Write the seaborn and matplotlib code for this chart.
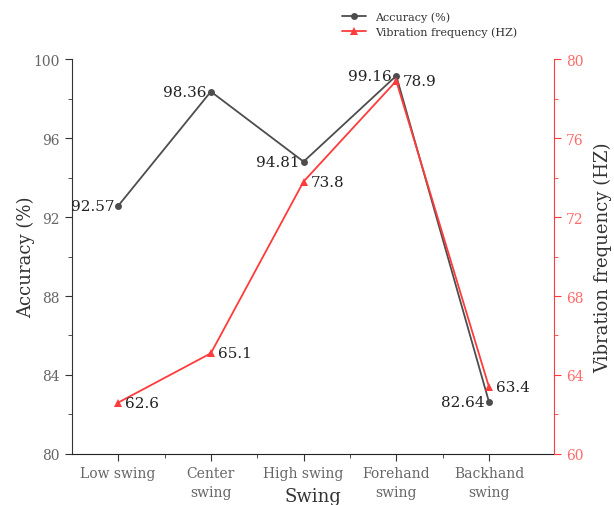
import matplotlib
matplotlib.use("Agg")
import matplotlib.pyplot as plt
import seaborn as sns
import pandas as pd
from matplotlib.ticker import MultipleLocator
from matplotlib.lines import Line2D

categories = ["Low swing", "Center\nswing", "High swing", "Forehand\nswing", "Backhand\nswing"]
accuracy = [92.57, 98.36, 94.81, 99.16, 82.64]
frequency = [62.6, 65.1, 73.8, 78.9, 63.4]
acc_labels = ["92.57", "98.36", "94.81", "99.16", "82.64"]
freq_labels = ["62.6", "65.1", "73.8", "78.9", "63.4"]

sns.set_style("ticks")
plt.rcParams['font.family'] = ['DejaVu Serif']

gray = "#4d4d4d"
red = "#ff3b3b"
tick_red = "#ff6b6b"

pos = list(range(1, len(categories) + 1))
df = pd.DataFrame({"pos": pos, "acc": accuracy, "freq": frequency})

fig = plt.figure(figsize=(6.14, 5.06), dpi=100)
ax = fig.add_axes([0.117, 0.101, 0.785, 0.78])
ax2 = ax.twinx()

sns.lineplot(data=df, x="pos", y="acc", ax=ax, color=gray, marker="o",
             markersize=5, markeredgewidth=0, linewidth=1.3)
sns.lineplot(data=df, x="pos", y="freq", ax=ax2, color=red, marker="^",
             markersize=6, markeredgewidth=0, linewidth=1.3)

ax.set_xlim(0.5, 5.7)
ax.set_ylim(80, 100)
ax2.set_ylim(60, 80)
ax.set_xticks(pos)
ax.set_xticklabels(categories, linespacing=1.5)
ax.set_xticks([1.5, 2.5, 3.5, 4.5], minor=True)
ax.yaxis.set_major_locator(MultipleLocator(4))
ax.yaxis.set_minor_locator(MultipleLocator(2))
ax2.yaxis.set_major_locator(MultipleLocator(4))
ax2.yaxis.set_minor_locator(MultipleLocator(2))

for a in (ax, ax2):
    a.spines['top'].set_visible(False)
ax.spines['right'].set_visible(False)
ax2.spines['left'].set_visible(False)
ax2.spines['bottom'].set_visible(False)
ax2.spines['right'].set_color(red)
ax.spines['left'].set_color("#333333")
ax.spines['bottom'].set_color("#222222")

ax.tick_params(axis='both', which='major', direction='out', length=5, labelsize=10, labelcolor="#666666", color="#333333")
ax.tick_params(axis='both', which='minor', direction='out', length=3, color="#333333")
ax2.tick_params(axis='y', which='major', direction='out', length=5, labelsize=10, labelcolor=tick_red, color=red)
ax2.tick_params(axis='y', which='minor', direction='out', length=3, color=red)

ax.set_xlabel("Swing", fontsize=13, color="#333333")
ax.xaxis.set_label_coords(0.5, -0.085)
ax.set_ylabel("Accuracy (%)", fontsize=13, color="#333333", labelpad=-1)
ax2.set_ylabel("Vibration frequency (HZ)", fontsize=13, color="#333333", labelpad=8)

for x, y, t in zip(pos, accuracy, acc_labels):
    ax.annotate(t, (x, y), xytext=(-3, 0), textcoords="offset points",
                ha="right", va="center", fontsize=11, color="#222222")
for x, y, t in zip(pos, frequency, freq_labels):
    ax2.annotate(t, (x, y), xytext=(5, 0), textcoords="offset points",
                 ha="left", va="center", fontsize=11, color="#222222")

handles = [Line2D([0], [0], color=gray, marker="o", markersize=5, markeredgewidth=0, linewidth=1.3),
           Line2D([0], [0], color=red, marker="^", markersize=6, markeredgewidth=0, linewidth=1.3)]
fig.legend(handles, ["Accuracy (%)", "Vibration frequency (HZ)"], loc="upper left",
           bbox_to_anchor=(0.54, 0.995), frameon=False, fontsize=8, handlelength=2.2,
           labelspacing=0.35, labelcolor="#333333")

fig.savefig("out.png", dpi=100)
